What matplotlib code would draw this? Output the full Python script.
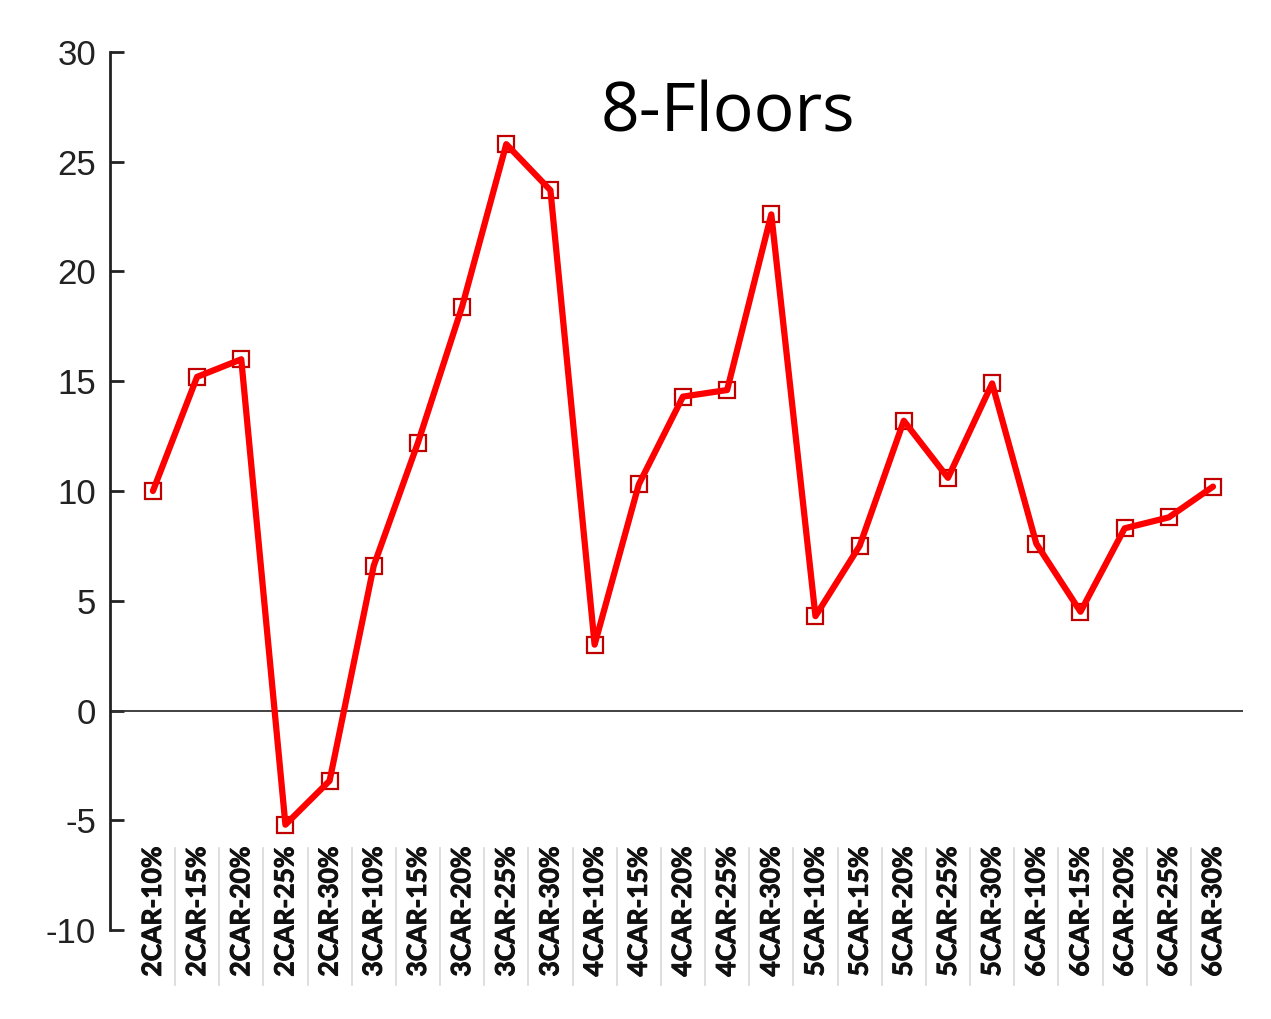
import matplotlib.pyplot as plt
import matplotlib.transforms as mtransforms
import matplotlib.patheffects as pe

# Category labels and values
categories = ['2CAR-10%', '2CAR-15%', '2CAR-20%', '2CAR-25%', '2CAR-30%',
              '3CAR-10%', '3CAR-15%', '3CAR-20%', '3CAR-25%', '3CAR-30%',
              '4CAR-10%', '4CAR-15%', '4CAR-20%', '4CAR-25%', '4CAR-30%',
              '5CAR-10%', '5CAR-15%', '5CAR-20%', '5CAR-25%', '5CAR-30%',
              '6CAR-10%', '6CAR-15%', '6CAR-20%', '6CAR-25%', '6CAR-30%']
values = [10.0, 15.2, 16.0, -5.2, -3.2,
          6.6, 12.2, 18.4, 25.8, 23.7,
          3.0, 10.3, 14.3, 14.6, 22.6,
          4.3, 7.5, 13.2, 10.6, 14.9,
          7.6, 4.5, 8.3, 8.8, 10.2]
y_ticks = [-10, -5, 0, 5, 10, 15, 20, 25, 30]
title = '8-Floors'

fig = plt.figure(figsize=(12.71, 10.19), dpi=100)
ax = fig.add_axes([0.0866, 0.0873, 0.8914, 0.8617])

x = list(range(len(categories)))

# markers under the line
ax.plot(x, values, linestyle='none', marker='s', markersize=12,
        markerfacecolor='white', markeredgecolor='#c00000',
        markeredgewidth=1.6, zorder=3)
ax.plot(x, values, color='#ff0000', linewidth=4.5, zorder=4,
        solid_capstyle='round', solid_joinstyle='round')

# zero line
ax.axhline(0, color='#333333', linewidth=1.3, zorder=2)

ax.set_xlim(-0.97, 24.68)
ax.set_ylim(-10, 30)

for side in ['top', 'right', 'bottom']:
    ax.spines[side].set_visible(False)
ax.spines['left'].set_linewidth(2)
ax.spines['left'].set_color('#222222')

ax.set_yticks(y_ticks)
ax.set_yticklabels([str(t) for t in y_ticks], fontsize=25,
                   family='Liberation Sans', color='#222222')
ax.tick_params(axis='y', direction='in', length=10, width=2,
               color='#222222', pad=10)
ax.set_xticks([])

# category labels in a table-like strip at the bottom
trans = mtransforms.blended_transform_factory(ax.transData, ax.transAxes)
for i, cat in enumerate(categories):
    ax.text(i, 0.021, cat, rotation=90, ha='center', va='center',
            fontsize=19, fontweight='bold', family='Lato',
            color='#111111', transform=trans, clip_on=False,
            path_effects=[pe.withStroke(linewidth=0.7, foreground='#111111')])
for i in range(len(categories) - 1):
    ax.plot([i + 0.5, i + 0.5], [0.093, -0.063], color='#d8d8d8',
            linewidth=1.2, transform=trans, clip_on=False)

ax.text(0.545, 0.930, title, transform=ax.transAxes, ha='center',
        va='center', fontsize=49, family='Open Sans', color='black')

fig.savefig('out.png', dpi=100)
